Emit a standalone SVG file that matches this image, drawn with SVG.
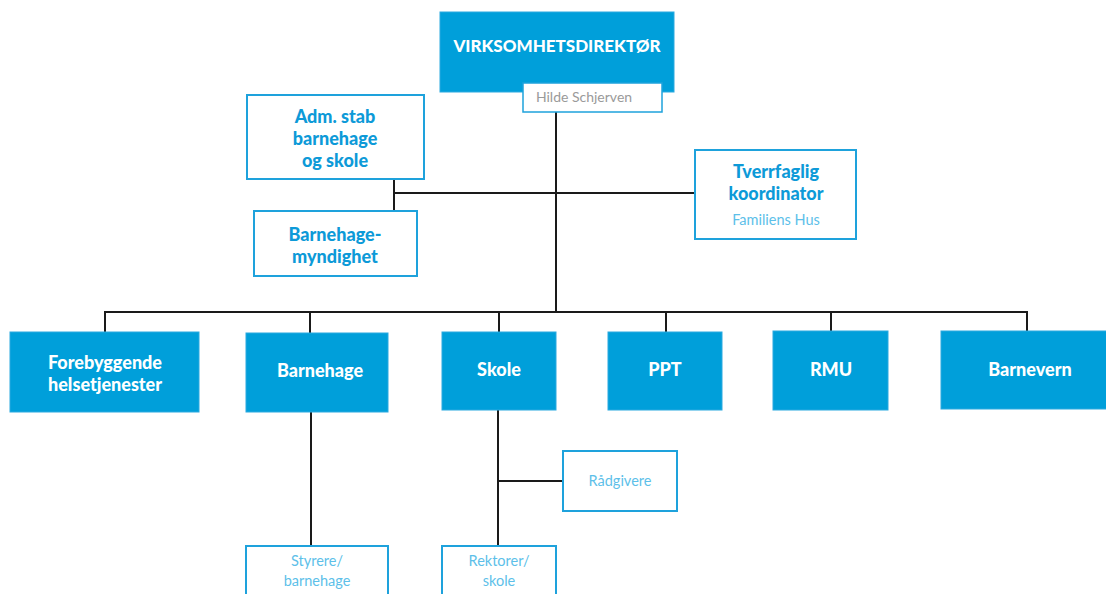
<svg xmlns="http://www.w3.org/2000/svg" width="1106" height="594" viewBox="0 0 1106 594">
<style>
.fill{fill:#009fda;stroke:#2aa9e0;stroke-width:1}
.out{fill:#fff;stroke:#1ea2dc;stroke-width:2}
.wt{font-family:Lato,"Open Sans",sans-serif;font-weight:900;font-size:18px;fill:#fff;text-anchor:middle}
.bt{font-family:Lato,"Open Sans",sans-serif;font-weight:900;font-size:18px;fill:#0d9ad8;text-anchor:middle}
.lt{font-family:Lato,"Open Sans",sans-serif;font-size:14.5px;fill:#5dbfe9;text-anchor:middle}
.gt{font-family:Lato,"Open Sans",sans-serif;font-size:14px;fill:#9a9a9a;text-anchor:middle}
.ln{stroke:#1a1a1a;stroke-width:2;fill:none}
</style>
<rect width="1106" height="594" fill="#fff"/>
<g id="connectors">
<path class="ln" d="M556 112V312M105 332V312H1027V331M310 312V333M499 312V332M666 312V332M831 312V331"/>
<path class="ln" d="M394 180V211M394 193H695"/>
<path class="ln" d="M311 412V546M498 410V546M498 481H563"/>
</g>
<g id="director">
<rect class="fill" x="440" y="12" width="234" height="80"/>
<text class="wt" x="557" y="52" style="font-size:17px">VIRKSOMHETSDIREKTØR</text>
</g>
<g id="hilde">
<rect class="out" x="523" y="83" width="139" height="29" style="stroke-width:1.5"/>
<text class="gt" x="584" y="102">Hilde Schjerven</text>
</g>
<g id="adm">
<rect class="out" x="247" y="95" width="177" height="84"/>
<text class="bt" x="335" y="123">Adm. stab</text>
<text class="bt" x="335" y="145">barnehage</text>
<text class="bt" x="335" y="167">og skole</text>
</g>
<g id="myndighet">
<rect class="out" x="254" y="211" width="163" height="65"/>
<text class="bt" x="335" y="241">Barnehage-</text>
<text class="bt" x="335" y="263">myndighet</text>
</g>
<g id="tverrfaglig">
<rect class="out" x="695" y="150" width="161" height="89"/>
<text class="bt" x="776" y="178">Tverrfaglig</text>
<text class="bt" x="776" y="200">koordinator</text>
<text class="lt" x="776" y="225">Familiens Hus</text>
</g>
<g id="forebyggende">
<rect class="fill" x="10" y="332" width="189" height="80"/>
<text class="wt" x="105" y="369">Forebyggende</text>
<text class="wt" x="105" y="391">helsetjenester</text>
</g>
<g id="barnehage">
<rect class="fill" x="246" y="333" width="142" height="79"/>
<text class="wt" x="320" y="377">Barnehage</text>
</g>
<g id="skole">
<rect class="fill" x="442" y="332" width="114" height="78"/>
<text class="wt" x="499" y="376">Skole</text>
</g>
<g id="ppt">
<rect class="fill" x="608" y="332" width="114" height="78"/>
<text class="wt" x="665" y="376">PPT</text>
</g>
<g id="rmu">
<rect class="fill" x="773" y="331" width="115" height="79"/>
<text class="wt" x="831" y="376">RMU</text>
</g>
<g id="barnevern">
<rect class="fill" x="941" y="331" width="170" height="78"/>
<text class="wt" x="1030" y="376">Barnevern</text>
</g>
<g id="raadgivere">
<rect class="out" x="563" y="451" width="114" height="60"/>
<text class="lt" x="620" y="486">Rådgivere</text>
</g>
<g id="styrere">
<rect class="out" x="246" y="546" width="142" height="60"/>
<text class="lt" x="317" y="566">Styrere/</text>
<text class="lt" x="317" y="586">barnehage</text>
</g>
<g id="rektorer">
<rect class="out" x="442" y="546" width="114" height="60"/>
<text class="lt" x="499" y="566">Rektorer/</text>
<text class="lt" x="499" y="586">skole</text>
</g>
</svg>
